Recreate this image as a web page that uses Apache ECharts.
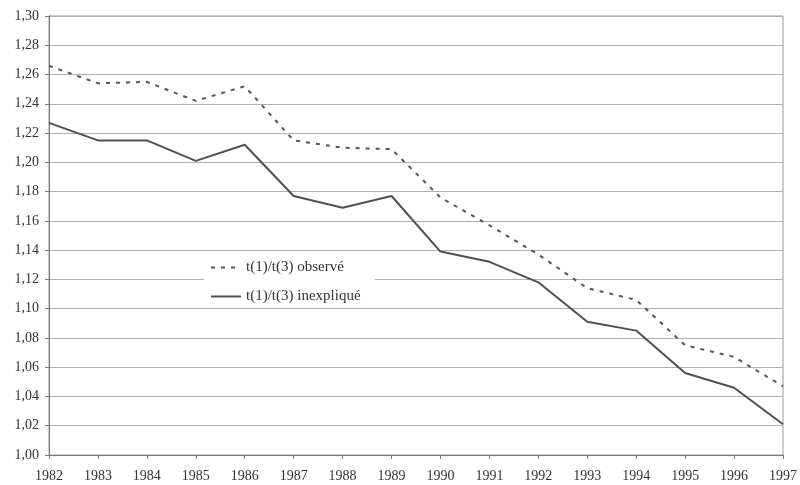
<!DOCTYPE html>
<html>
<head>
<meta charset="utf-8">
<script src="https://cdn.jsdelivr.net/npm/echarts@6/dist/echarts.min.js"></script>
<style>
html,body{margin:0;padding:0;background:#fff;}
#chart{width:800px;height:485px;}
</style>
</head>
<body>
<div id="chart"></div>
<script>
const years = ['1982','1983','1984','1985','1986','1987','1988','1989','1990','1991','1992','1993','1994','1995','1996','1997'];
const observe = [1.266,1.254,1.255,1.242,1.252,1.215,1.210,1.209,1.176,1.157,1.137,1.114,1.106,1.075,1.067,1.047];
const inexplique = [1.227,1.215,1.215,1.201,1.212,1.177,1.169,1.177,1.139,1.132,1.118,1.091,1.085,1.056,1.046,1.021];
const seriesNames = ['t(1)/t(3) observé','t(1)/t(3) inexpliqué'];

const font = 'Liberation Serif';
const chart = echarts.init(document.getElementById('chart'));
chart.setOption({
  animation:false,
  backgroundColor:'#fff',
  textStyle:{fontFamily:font},
  grid:{left:49,right:17,top:16,bottom:30,show:true,borderColor:'#9a9a9a',borderWidth:1},
  legend:{
    orient:'vertical',left:204,top:256,
    backgroundColor:'#fff',padding:[4,14,4,6],
    itemWidth:30,itemHeight:14,itemGap:14,
    itemStyle:{opacity:0},
    textStyle:{fontFamily:font,fontSize:15,color:'#333'},
    data:seriesNames
  },
  xAxis:{
    type:'category',data:years,boundaryGap:false,
    axisLine:{lineStyle:{color:'#777',width:1}},
    axisTick:{show:true,length:4,lineStyle:{color:'#777'}},
    axisLabel:{fontFamily:font,fontSize:14,color:'#333',margin:14},
    splitLine:{show:false}
  },
  yAxis:{
    type:'value',min:1.00,max:1.30,interval:0.02,
    axisLine:{show:true,lineStyle:{color:'#777',width:1}},
    axisTick:{show:true,length:4,lineStyle:{color:'#777'}},
    axisLabel:{fontFamily:font,fontSize:14,color:'#333',margin:10,
      formatter:v=>v.toFixed(2).replace('.',',')},
    splitLine:{show:true,lineStyle:{color:'#b0b0b0',width:1.2}}
  },
  series:[
    {name:seriesNames[0],type:'line',data:observe,symbol:'none',
     lineStyle:{color:'#555',width:2,type:[4,6]},itemStyle:{color:'#555'}},
    {name:seriesNames[1],type:'line',data:inexplique,symbol:'none',
     lineStyle:{color:'#505050',width:2},itemStyle:{color:'#505050'}}
  ]
});
</script>
</body>
</html>
